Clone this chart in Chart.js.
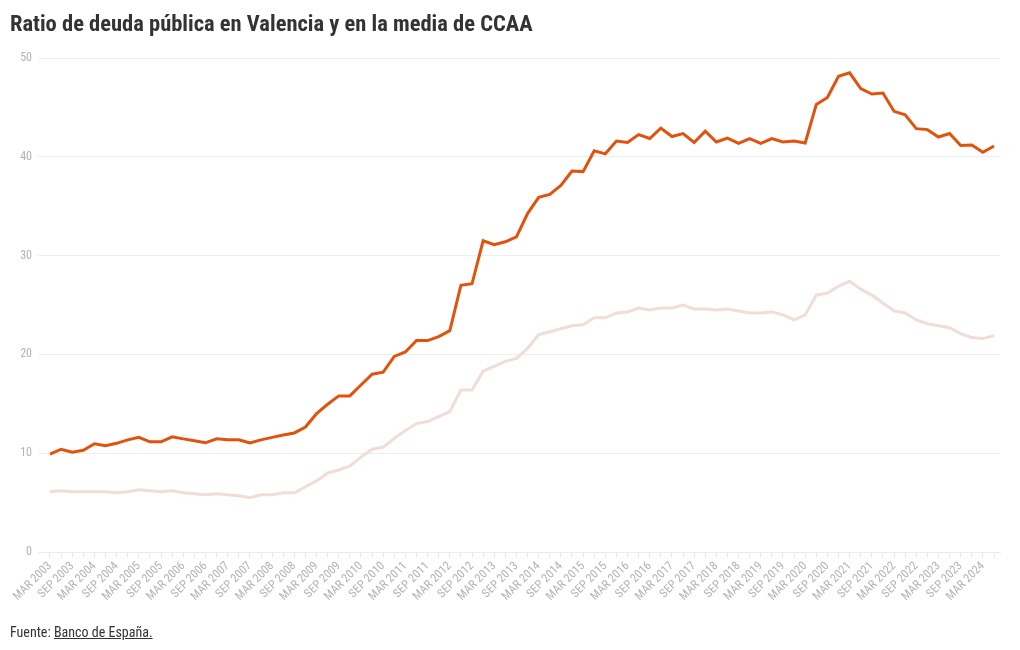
<!DOCTYPE html>
<html>
<head>
<meta charset="utf-8">
<script src="https://cdn.jsdelivr.net/npm/chart.js@4"></script>
<style>
  html, body { margin: 0; padding: 0; background: #fff; }
  body { width: 1020px; height: 650px; position: relative; overflow: hidden;
         font-family: "Roboto Condensed", "Liberation Sans Narrow", "DejaVu Sans Condensed", Roboto, sans-serif; }
  #title { position: absolute; left: 10px; top: 10px; font-size: 22.5px; line-height: 27px; font-weight: bold; color: #333; white-space: nowrap; }
  #foot { position: absolute; left: 10px; top: 624px; font-size: 14px; color: #333; white-space: nowrap; }
  #foot span { text-decoration: underline; }
  #wrap { position: absolute; left: 0; top: 0; width: 1020px; height: 650px; }
  canvas { display: block; }
</style>
</head>
<body>
<div id="wrap"><canvas id="c" width="1020" height="650"></canvas></div>
<div id="title">Ratio de deuda pública en Valencia y en la media de CCAA</div>
<div id="foot">Fuente: <span>Banco de España.</span></div>
<script>
const quarterLabels = [
 "MAR 2003","JUN 2003","SEP 2003","DEC 2003","MAR 2004","JUN 2004","SEP 2004","DEC 2004",
 "MAR 2005","JUN 2005","SEP 2005","DEC 2005","MAR 2006","JUN 2006","SEP 2006","DEC 2006",
 "MAR 2007","JUN 2007","SEP 2007","DEC 2007","MAR 2008","JUN 2008","SEP 2008","DEC 2008",
 "MAR 2009","JUN 2009","SEP 2009","DEC 2009","MAR 2010","JUN 2010","SEP 2010","DEC 2010",
 "MAR 2011","JUN 2011","SEP 2011","DEC 2011","MAR 2012","JUN 2012","SEP 2012","DEC 2012",
 "MAR 2013","JUN 2013","SEP 2013","DEC 2013","MAR 2014","JUN 2014","SEP 2014","DEC 2014",
 "MAR 2015","JUN 2015","SEP 2015","DEC 2015","MAR 2016","JUN 2016","SEP 2016","DEC 2016",
 "MAR 2017","JUN 2017","SEP 2017","DEC 2017","MAR 2018","JUN 2018","SEP 2018","DEC 2018",
 "MAR 2019","JUN 2019","SEP 2019","DEC 2019","MAR 2020","JUN 2020","SEP 2020","DEC 2020",
 "MAR 2021","JUN 2021","SEP 2021","DEC 2021","MAR 2022","JUN 2022","SEP 2022","DEC 2022",
 "MAR 2023","JUN 2023","SEP 2023","DEC 2023","MAR 2024","JUN 2024"
];
const valencia = [
 9.9,10.4,10.1,10.3,10.95,10.75,11.0,11.35,
 11.6,11.15,11.15,11.65,11.45,11.25,11.05,11.45,
 11.35,11.35,11.05,11.35,11.6,11.85,12.05,12.65,
 14.0,14.95,15.8,15.8,16.9,18.0,18.2,19.8,
 20.25,21.4,21.4,21.8,22.4,27.0,27.15,31.5,
 31.1,31.4,31.9,34.25,35.9,36.2,37.1,38.55,
 38.5,40.6,40.3,41.6,41.45,42.25,41.85,42.9,
 42.05,42.35,41.45,42.6,41.5,41.9,41.35,41.85,
 41.35,41.85,41.5,41.6,41.4,45.3,46.0,48.15,
 48.5,46.9,46.35,46.45,44.6,44.25,42.85,42.75,
 42.0,42.35,41.15,41.2,40.45,41.1
];
const mediaCCAA = [
 6.1,6.2,6.1,6.1,6.1,6.1,6.0,6.1,
 6.3,6.2,6.1,6.2,6.0,5.9,5.8,5.9,
 5.8,5.7,5.5,5.8,5.8,6.0,6.0,6.6,
 7.2,8.0,8.3,8.7,9.6,10.4,10.6,11.5,
 12.3,13.0,13.2,13.7,14.2,16.4,16.4,18.3,
 18.8,19.3,19.6,20.6,22.0,22.3,22.6,22.9,
 23.0,23.7,23.7,24.2,24.3,24.7,24.5,24.7,
 24.7,25.0,24.6,24.6,24.5,24.6,24.4,24.2,
 24.2,24.3,24.0,23.5,24.0,26.0,26.2,26.9,
 27.4,26.6,26.0,25.2,24.4,24.2,23.5,23.1,
 22.9,22.7,22.1,21.7,21.6,21.9
];
const yTicks = [0,10,20,30,40,50];

const FONT = '"Roboto Condensed", "Liberation Sans Narrow", "DejaVu Sans Condensed", Roboto, sans-serif';
const toPts = arr => arr.map((v, i) => ({ x: i, y: v }));

new Chart(document.getElementById('c'), {
  type: 'line',
  data: {
    datasets: [
      { label: 'Media CCAA', data: toPts(mediaCCAA), borderColor: '#f1ddd7', borderWidth: 3, pointRadius: 0, tension: 0, fill: false },
      { label: 'Valencia', data: toPts(valencia), borderColor: '#e3520c', borderWidth: 3, pointRadius: 0, tension: 0, fill: false }
    ]
  },
  options: {
    responsive: false,
    animation: false,
    events: [],
    layout: { padding: { top: 58, left: 0, right: 20, bottom: 38 } },
    plugins: { legend: { display: false }, tooltip: { enabled: false }, title: { display: false } },
    scales: {
      x: {
        type: 'linear',
        min: -1.08,
        max: 85.54,
        afterBuildTicks: (scale) => { scale.ticks = quarterLabels.map((_, i) => ({ value: i })); },
        afterFit: (scale) => { scale.height = 60; },
        grid: { display: true, drawOnChartArea: false, drawTicks: true, tickLength: 5, color: '#e8e8e8' },
        border: { display: true, color: '#ececec' },
        ticks: {
          autoSkip: false,
          minRotation: 45, maxRotation: 45,
          padding: 2,
          color: '#b3b3b3',
          font: { family: FONT, size: 12 },
          callback: (v) => (v % 2 === 0 ? quarterLabels[v] : '')
        }
      },
      y: {
        min: 0, max: 50,
        afterBuildTicks: (scale) => { scale.ticks = yTicks.map(v => ({ value: v })); },
        afterFit: (scale) => { scale.width = 38; },
        grid: { color: '#eeeeee', drawTicks: false, lineWidth: 1 },
        border: { display: false },
        ticks: { padding: 6, color: '#b3b3b3', font: { family: FONT, size: 12 } }
      }
    }
  }
});
</script>
</body>
</html>
